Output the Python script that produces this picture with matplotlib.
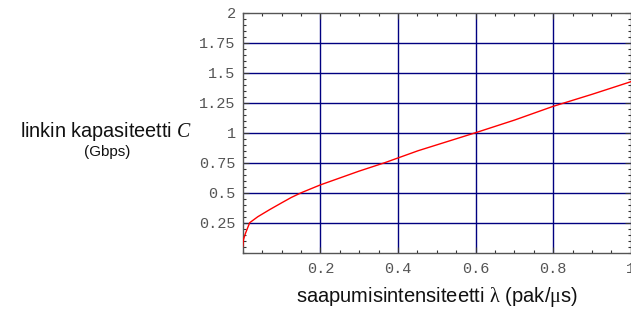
import matplotlib
matplotlib.use("Agg")
import matplotlib.pyplot as plt
from matplotlib.ticker import MultipleLocator, FixedLocator, FixedFormatter

plt.rcParams['mathtext.fontset'] = 'custom'
plt.rcParams['mathtext.rm'] = 'Liberation Serif'
plt.rcParams['mathtext.it'] = 'Liberation Serif:italic'

# data
lam = [0.0, 0.002, 0.007, 0.018, 0.039, 0.07, 0.1, 0.125, 0.151, 0.2, 0.3,
       0.366, 0.452, 0.6, 0.7, 0.8, 0.9, 1.0]
cap = [0.05, 0.11, 0.16, 0.25, 0.30, 0.36, 0.415, 0.46, 0.5, 0.565, 0.68,
       0.75, 0.85, 1.0, 1.105, 1.22, 1.32, 1.425]

xticks = [0.2, 0.4, 0.6, 0.8, 1.0]
xticklabels = ["0.2", "0.4", "0.6", "0.8", "1"]
yticks = [0.25, 0.5, 0.75, 1.0, 1.25, 1.5, 1.75, 2.0]
yticklabels = ["0.25", "0.5", "0.75", "1", "1.25", "1.5", "1.75", "2"]

W, H = 631, 311
fig = plt.figure(figsize=(W / 100, H / 100), dpi=100)
x0, x1 = 242.7, 630.9
ytop, ybot = 12.7, 252.7
ax = fig.add_axes([x0 / W, 1 - ybot / H, (x1 - x0) / W, (ybot - ytop) / H])

ax.set_xlim(0, 1)
ax.set_ylim(0, 2)

grid_col = '#000080'
for xv in xticks[:-1]:
    ax.axvline(xv, color=grid_col, lw=1.0, zorder=1)
for yv in yticks[:-1]:
    ax.axhline(yv, color=grid_col, lw=1.0, zorder=1)

ax.plot(lam, cap, color='#ff0000', lw=1.0, zorder=3)

ax.xaxis.set_major_locator(FixedLocator(xticks))
ax.xaxis.set_major_formatter(FixedFormatter(xticklabels))
ax.yaxis.set_major_locator(FixedLocator(yticks))
ax.yaxis.set_major_formatter(FixedFormatter(yticklabels))
ax.xaxis.set_minor_locator(MultipleLocator(0.05))
ax.yaxis.set_minor_locator(MultipleLocator(0.05))

for sp in ax.spines.values():
    sp.set_color('#555555')
    sp.set_linewidth(1.0)

ax.tick_params(which='both', direction='in', top=True, right=True,
               color='#333333', width=0.8)
ax.tick_params(which='major', length=4)
ax.tick_params(which='minor', length=2.5)
ax.tick_params(axis='both', which='major', labelsize=11, labelcolor='#555555')
ax.tick_params(axis='x', pad=7)
ax.tick_params(axis='y', pad=5)
for lab in ax.get_xticklabels() + ax.get_yticklabels():
    lab.set_family('Liberation Mono')

fig.text((x0 + x1) / 2 / W, 1 - 297 / H,
         r"saapumisintensiteetti $\mathrm{\lambda}$ (pak/$\mathrm{\mu}$s)",
         ha='center', va='center', fontsize=14.5, family='Liberation Sans',
         color='#111111')
fig.text(106 / W, 1 - 131.5 / H, r"linkin kapasiteetti $C$",
         ha='center', va='center', fontsize=14.3, family='Liberation Sans',
         color='#111111')
fig.text(107.5 / W, 1 - 152 / H, "(Gbps)",
         ha='center', va='center', fontsize=11, family='Liberation Sans',
         color='#111111')

fig.savefig("out.png", dpi=100)
